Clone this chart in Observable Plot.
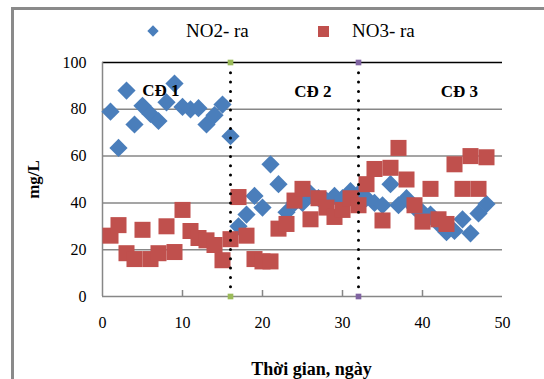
<!DOCTYPE html>
<html>
<head>
<meta charset="utf-8">
<script src="https://cdn.jsdelivr.net/npm/d3@7"></script>
<script src="https://cdn.jsdelivr.net/npm/@observablehq/plot@0.6"></script>
<style>
  html, body { margin: 0; padding: 0; background: #fff; }
  #wrap { position: relative; width: 544px; height: 379px; overflow: hidden; font-family: "Liberation Serif", "Times New Roman", "DejaVu Serif", serif; }
  #frame { position: absolute; left: 11px; top: 7px; width: 700px; height: 600px; border: 3px solid #8a8a8a; box-sizing: border-box; }
  #chart { position: absolute; left: 0; top: 0; }
  #legend { position: absolute; top: 20px; left: 0; width: 544px; height: 24px; font-size: 19px; color: #000; }
  .li { position: absolute; top: 0; white-space: nowrap; }
  .mk { position: absolute; }
  #chart svg, #chart svg text { font-family: "Liberation Serif", "Times New Roman", "DejaVu Serif", serif; }
  g[aria-label="y-axis label"] text { font-weight: bold; font-size: 17px; }
</style>
</head>
<body>
<div id="wrap">
  <div id="frame"></div>
  <div id="chart"></div>
  <div id="legend"></div>
</div>
<script>
const days = d3.range(1, 49);
const no2 = [79, 63.5, 88, 73.5, 81.5, 78, 75, 83, 91, 81, 80, 80.5, 73.5, 77.5, 82, 68.5,
             30, 35, 43, 38, 56.5, 48, 36, 40, 40, 44, 42, 41, 43, 42, 45, 44,
             42, 40, 39, 48, 39, 42, 38, 36, 35, 31, 27.5, 28, 33, 27, 35.5, 39.5];
const no3 = [26, 30.5, 18.5, 16, 28.5, 16, 18.5, 30, 19, 37, 28, 25, 24, 22, 15.5, 24.5,
             42.5, 26, 16, 15, 15, 29, 31, 41, 46, 33, 42, 38, 34, 37, 42, 39,
             48, 54.5, 32.5, 55, 63.5, 50, 39, 32, 46, 33, 31, 56.5, 46, 60, 46, 59.5];
const seriesNames = ["NO2- ra", "NO3- ra"];
const seriesColors = ["#4a7ebb", "#c0504d"];
const dividerDays = [16, 32];
const dividerColors = ["#9bbb59", "#8064a2"];
const phaseLabels = ["CĐ 1", "CĐ 2", "CĐ 3"];
const phaseX = [7.3, 26.3, 44.6];
const phaseY = [88, 87.5, 87.5];
const xTicks = [0, 10, 20, 30, 40, 50];
const yTicks = [0, 20, 40, 60, 80, 100];

const rows2 = days.map((d, i) => ({day: d, v: no2[i]}));
const rows3 = days.map((d, i) => ({day: d, v: no3[i]}));
const divEnds = dividerDays.flatMap((d, i) => [{day: d, v: 0, c: dividerColors[i]}, {day: d, v: 100, c: dividerColors[i]}]);
const phases = phaseLabels.map((t, i) => ({t, x: phaseX[i], y: phaseY[i]}));
const serif = "Liberation Serif, Times New Roman, DejaVu Serif, serif";

const chart = Plot.plot({
  width: 544, height: 379,
  marginLeft: 102, marginRight: 42, marginTop: 62, marginBottom: 83,
  x: {domain: [0, 50]},
  y: {domain: [0, 100]},
  style: {fontFamily: serif, fontSize: "15px", color: "#000", background: "transparent"},
  marks: [
    Plot.ruleY([20, 40, 60, 80], {stroke: "#878787", strokeWidth: 1.5}),
    Plot.ruleY([100], {stroke: "#000", strokeWidth: 1.5}),
    Plot.ruleY([0], {stroke: "#878787", strokeWidth: 1.5}),
    Plot.ruleX([0], {y1: 0, y2: 100, stroke: "#878787", strokeWidth: 1.5}),
    Plot.axisX({ticks: [10, 20, 30, 40], tickSize: -6, tickFormat: () => "", stroke: "#878787", strokeWidth: 1.5, label: null}),
    Plot.axisX({ticks: xTicks, tickSize: 0, tickPadding: 20, fontSize: 16, label: null}),
    Plot.axisY({ticks: yTicks, tickSize: 0, tickPadding: 16, fontSize: 16, label: "mg/L", labelAnchor: "center", labelArrow: "none", labelOffset: 76}),
    Plot.dot(rows2, {x: "day", y: "v", symbol: "diamond2", r: 8.2, fill: seriesColors[0], stroke: "none"}),
    Plot.dot(rows3, {x: "day", y: "v", symbol: "square2", r: 10.2, fill: seriesColors[1], stroke: "none"}),
    Plot.ruleX(dividerDays, {y1: 0, y2: 100, stroke: "#000", strokeWidth: 3, strokeDasharray: "0,9.3", strokeLinecap: "round"}),
    Plot.dot(divEnds, {x: "day", y: "v", symbol: "square2", r: 3.6, fill: "c", stroke: "none"}),
    Plot.text(phases, {x: "x", y: "y", text: "t", fontSize: 17, fontWeight: "bold", fill: "#000", fontFamily: serif}),
    Plot.text(["Thời gian, ngày"], {frameAnchor: "bottom", dy: 78, dx: 9, fontSize: 18, fontWeight: "bold", fill: "#000", fontFamily: serif})
  ]
});
document.getElementById("chart").appendChild(chart);

// legend
const legend = document.getElementById("legend");
const legendPos = [{mk: 153, tx: 186}, {mk: 323, tx: 352}];
seriesNames.forEach((name, i) => {
  const m = document.createElement("div");
  m.className = "mk";
  if (i === 0) {
    m.style.cssText = `left:${legendPos[i].mk - 4}px; top:7px; width:8px; height:8px; background:${seriesColors[i]}; transform:rotate(45deg);`;
  } else {
    m.style.cssText = `left:${legendPos[i].mk - 5}px; top:6px; width:11px; height:11px; background:${seriesColors[i]};`;
  }
  legend.appendChild(m);
  const t = document.createElement("div");
  t.className = "li";
  t.style.left = legendPos[i].tx + "px";
  t.textContent = name;
  legend.appendChild(t);
});
</script>
</body>
</html>
